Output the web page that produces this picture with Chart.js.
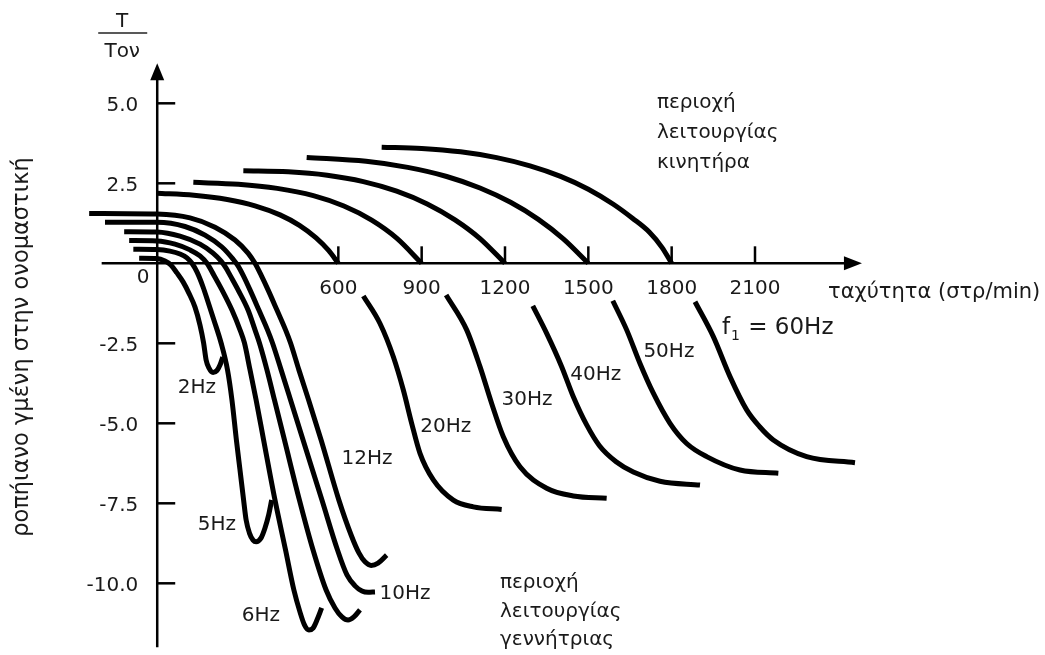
<!DOCTYPE html>
<html><head><meta charset="utf-8">
<script src="https://cdn.jsdelivr.net/npm/chart.js@4/dist/chart.umd.min.js"></script>
<style>html,body{margin:0;padding:0;background:#fff;}#wrap{width:1045px;height:655px;}</style>
</head><body><div id="wrap"><canvas id="c" width="1045" height="655"></canvas></div>
<script>
// ---- tick labels ----
const xTickValues = [600, 900, 1200, 1500, 1800, 2100];
const xTickLabels = ["600", "900", "1200", "1500", "1800", "2100"];
const yTickValues = [5, 2.5, -2.5, -5, -7.5, -10];
const yTickLabels = ["5.0", "2.5", "-2.5", "-5.0", "-7.5", "-10.0"];

// ---- curves: [speed (rpm), T/Ton] ----
const motor20 = [[-54,2.19],[80,2.125],[200,1.994],[300,1.798],[390,1.514],[460,1.186],[520,0.794],[565,0.402],[600,0]];
const motor30 = [[78,2.53],[240,2.47],[380,2.341],[510,2.114],[620,1.79],[720,1.349],[810,0.786],[900,0]];
const motor40 = [[258,2.89],[420,2.859],[560,2.752],[690,2.553],[810,2.255],[920,1.855],[1020,1.358],[1110,0.773],[1200,0]];
const motor50 = [[486,3.31],[700,3.186],[850,2.997],[990,2.713],[1110,2.353],[1220,1.906],[1320,1.374],[1410,0.764],[1500,0]];
const motor60 = [[756,3.63],[900,3.59],[1040,3.485],[1170,3.303],[1290,3.045],[1400,2.716],[1500,2.315],[1590,1.845],[1660,1.4],[1720,0.97],[1765,0.5],[1800,0]];

const gen20 = [[690,-1.02],[750,-1.88],[798,-2.92],[834,-3.96],[864,-5.0],[894,-5.94],[942,-6.77],[1014,-7.4],[1086,-7.61],[1188,-7.69]];
const gen30 = [[988,-0.99],[1062,-2.08],[1110,-3.23],[1152,-4.38],[1194,-5.42],[1254,-6.36],[1350,-7.03],[1446,-7.27],[1566,-7.34]];
const gen40 = [[1300,-1.33],[1350,-2.19],[1404,-3.23],[1446,-4.17],[1494,-5.05],[1540,-5.7],[1600,-6.2],[1662,-6.52],[1758,-6.81],[1902,-6.93]];
const gen50 = [[1588,-1.17],[1638,-2.08],[1686,-3.13],[1734,-4.06],[1794,-5.0],[1854,-5.63],[1926,-6.04],[2046,-6.46],[2184,-6.56]];
const gen60 = [[1884,-1.2],[1950,-2.29],[2010,-3.54],[2070,-4.58],[2116,-5.1],[2166,-5.52],[2286,-6.04],[2460,-6.23]];

const low2 = [[-117,0.16],[-53,0.15],[-24,0.07],[-3,-0.05],[19,-0.3],[41,-0.58],[62,-0.93],[84,-1.37],[102,-1.93],[115,-2.49],[124,-3.02],[134,-3.27],[149,-3.41],[163,-3.35],[174,-3.18],[184,-2.93]];
const low5 = [[-138,0.44],[-53,0.43],[-6,0.38],[30,0.29],[55,0.17],[73,0],[91,-0.27],[113,-0.74],[131,-1.21],[152,-1.77],[178,-2.49],[201,-3.33],[217,-4.27],[233,-5.52],[246,-6.46],[259,-7.4],[268,-8.02],[280,-8.43],[293,-8.65],[304,-8.7],[322,-8.58],[336,-8.27],[349,-7.87],[360,-7.4]];
const low6 = [[-153,0.71],[-53,0.7],[12,0.6],[66,0.42],[102,0.23],[127,0],[152,-0.37],[181,-0.83],[217,-1.46],[246,-2.08],[262,-2.49],[282,-3.33],[304,-4.27],[331,-5.52],[372,-7.4],[410,-8.96],[440,-10.21],[462,-10.9],[478,-11.3],[494,-11.46],[509,-11.4],[523,-11.15],[540,-10.77]];
const low8 = [[-171,0.99],[-53,0.98],[30,0.85],[102,0.6],[149,0.32],[178,0.07],[196,-0.15],[210,-0.37],[239,-0.83],[275,-1.46],[300,-2.08],[316,-2.49],[343,-3.33],[370,-4.27],[406,-5.52],[460,-7.4],[509,-8.96],[556,-10.21],[588,-10.77],[613,-11.05],[635,-11.15],[656,-11.05],[678,-10.83]];
const low10 = [[-240,1.28],[-53,1.28],[48,1.15],[120,0.88],[181,0.51],[221,0.13],[239,-0.08],[257,-0.37],[282,-0.83],[314,-1.46],[345,-2.08],[363,-2.49],[394,-3.33],[428,-4.27],[473,-5.52],[541,-7.4],[597,-8.96],[631,-9.74],[660,-10.08],[685,-10.24],[707,-10.28],[732,-10.27]];
const low12 = [[-297,1.56],[-53,1.54],[66,1.42],[156,1.13],[228,0.73],[275,0.32],[300,0],[322,-0.37],[347,-0.83],[379,-1.46],[410,-2.08],[428,-2.49],[458,-3.33],[493,-4.27],[538,-5.52],[602,-7.4],[646,-8.49],[674,-9.05],[696,-9.33],[718,-9.44],[743,-9.37],[774,-9.12]];

const allCurves = [motor20, motor30, motor40, motor50, motor60, gen20, gen30, gen40, gen50, gen60, low2, low5, low6, low8, low10, low12];

// ---- text annotations ----
const curveLabels = ["2Hz", "5Hz", "6Hz", "10Hz", "12Hz", "20Hz", "30Hz", "40Hz", "50Hz"];
const curveLabelAt = [[91,-3.9],[163,-8.18],[321,-11.0],[840,-10.33],[703,-6.12],[987,-5.12],[1279,-4.27],[1527,-3.49],[1790,-2.77]];
const motorRegionText = ["περιοχή", "λειτουργίας", "κινητήρα"];
const generatorRegionText = ["περιοχή", "λειτουργίας", "γεννήτριας"];
const xAxisTitle = "ταχύτητα (στρ/min)";
const yAxisTitle = "ροπήιανο γμένη στην ονομαστική";

// axis geometry in data units (schematic: torque axis drawn slightly left of 0 rpm)
const TORQUE_AXIS_AT = -52;
const SPEED_AXIS_SPAN = [-252, 2485];
const TORQUE_AXIS_SPAN = [-12.0, 6.25];

const FONT = '"DejaVu Sans", "Liberation Sans", sans-serif';

const axesPlugin = {
  id: 'axesPlugin',
  beforeDatasetsDraw(chart) {
    const ctx = chart.ctx, xs = chart.scales.x, ys = chart.scales.y;
    ctx.save();
    ctx.strokeStyle = '#000'; ctx.fillStyle = '#000'; ctx.lineWidth = 2.5;
    const y0 = ys.getPixelForValue(0);
    const xa = xs.getPixelForValue(SPEED_AXIS_SPAN[0]), xb = xs.getPixelForValue(SPEED_AXIS_SPAN[1]);
    ctx.beginPath(); ctx.moveTo(xa, y0); ctx.lineTo(xb - 10, y0); ctx.stroke();
    ctx.beginPath(); ctx.moveTo(xb, y0); ctx.lineTo(xb - 18, y0 - 7); ctx.lineTo(xb - 18, y0 + 7); ctx.closePath(); ctx.fill();
    const x0 = xs.getPixelForValue(TORQUE_AXIS_AT);
    const ya = ys.getPixelForValue(TORQUE_AXIS_SPAN[0]), yb = ys.getPixelForValue(TORQUE_AXIS_SPAN[1]);
    ctx.beginPath(); ctx.moveTo(x0, ya); ctx.lineTo(x0, yb + 10); ctx.stroke();
    ctx.beginPath(); ctx.moveTo(x0, yb); ctx.lineTo(x0 - 7, yb + 17); ctx.lineTo(x0 + 7, yb + 17); ctx.closePath(); ctx.fill();
    yTickValues.forEach(v => { const p = ys.getPixelForValue(v); ctx.beginPath(); ctx.moveTo(x0, p); ctx.lineTo(x0 + 18, p); ctx.stroke(); });
    xTickValues.forEach(v => { const p = xs.getPixelForValue(v); ctx.beginPath(); ctx.moveTo(p, y0); ctx.lineTo(p, y0 - 17); ctx.stroke(); });
    ctx.restore();
  },
  afterDatasetsDraw(chart) {
    const ctx = chart.ctx, xs = chart.scales.x, ys = chart.scales.y;
    ctx.save();
    ctx.fillStyle = '#1a1a1a';
    const x0 = xs.getPixelForValue(TORQUE_AXIS_AT), y0 = ys.getPixelForValue(0);
    ctx.font = '20px ' + FONT; ctx.textBaseline = 'middle';
    ctx.textAlign = 'right';
    yTickValues.forEach((v, i) => ctx.fillText(yTickLabels[i], x0 - 19, ys.getPixelForValue(v) + 2));
    ctx.textAlign = 'center';
    ctx.fillText("0", x0 - 14, y0 + 14);
    xTickValues.forEach((v, i) => ctx.fillText(xTickLabels[i], xs.getPixelForValue(v), y0 + 25));
    curveLabels.forEach((t, i) => ctx.fillText(t, xs.getPixelForValue(curveLabelAt[i][0]), ys.getPixelForValue(curveLabelAt[i][1])));
    // f1 = 60Hz
    ctx.textAlign = 'left';
    const fx = xs.getPixelForValue(1981), fy = ys.getPixelForValue(-2.02);
    ctx.font = '23px ' + FONT;
    ctx.fillText("f", fx, fy);
    const w = ctx.measureText("f").width;
    ctx.font = '14px ' + FONT;
    ctx.fillText("1", fx + w + 1, fy + 8);
    const w2 = ctx.measureText("1").width;
    ctx.font = '23px ' + FONT;
    ctx.fillText(" = 60Hz", fx + w + w2 + 2, fy);
    // region texts
    ctx.font = '20px ' + FONT;
    motorRegionText.forEach((t, i) => ctx.fillText(t, xs.getPixelForValue(1747), ys.getPixelForValue(5.01 - i * 0.94)));
    generatorRegionText.forEach((t, i) => ctx.fillText(t, xs.getPixelForValue(1182), ys.getPixelForValue(-9.99 - i * 0.89)));
    ctx.font = '21px ' + FONT;
    ctx.fillText(xAxisTitle, xs.getPixelForValue(2363), ys.getPixelForValue(-0.9));
    // torque axis title (rotated)
    ctx.save();
    ctx.translate(28, 347);
    ctx.rotate(-Math.PI / 2);
    ctx.textAlign = 'center'; ctx.textBaseline = 'alphabetic';
    ctx.font = '22.5px ' + FONT;
    ctx.fillText(yAxisTitle, 0, 0);
    ctx.restore();
    // T / Ton fraction
    ctx.textAlign = 'center';
    ctx.font = '20px ' + FONT;
    ctx.fillText("T", x0 - 35, 22);
    ctx.strokeStyle = '#222'; ctx.lineWidth = 1.5;
    ctx.beginPath(); ctx.moveTo(x0 - 59, 33); ctx.lineTo(x0 - 10, 33); ctx.stroke();
    ctx.fillText("Tον", x0 - 35, 52);
    ctx.restore();
  }
};

new Chart(document.getElementById('c'), {
  type: 'line',
  data: {
    datasets: allCurves.map(c => ({
      data: c.map(p => ({ x: p[0], y: p[1] })),
      borderColor: '#000',
      borderWidth: 5,
      pointRadius: 0,
      fill: false,
      cubicInterpolationMode: 'monotone',
      borderCapStyle: 'butt',
      borderJoinStyle: 'round'
    }))
  },
  options: {
    responsive: false,
    animation: false,
    layout: { padding: { left: 80, right: 175, top: 50, bottom: 5 } },
    scales: {
      x: { type: 'linear', min: -330, max: 2514, display: false },
      y: { type: 'linear', min: -12.084, max: 6.666, display: false }
    },
    plugins: { legend: { display: false }, tooltip: { enabled: false } },
    events: []
  },
  plugins: [axesPlugin]
});
</script>
</body></html>
